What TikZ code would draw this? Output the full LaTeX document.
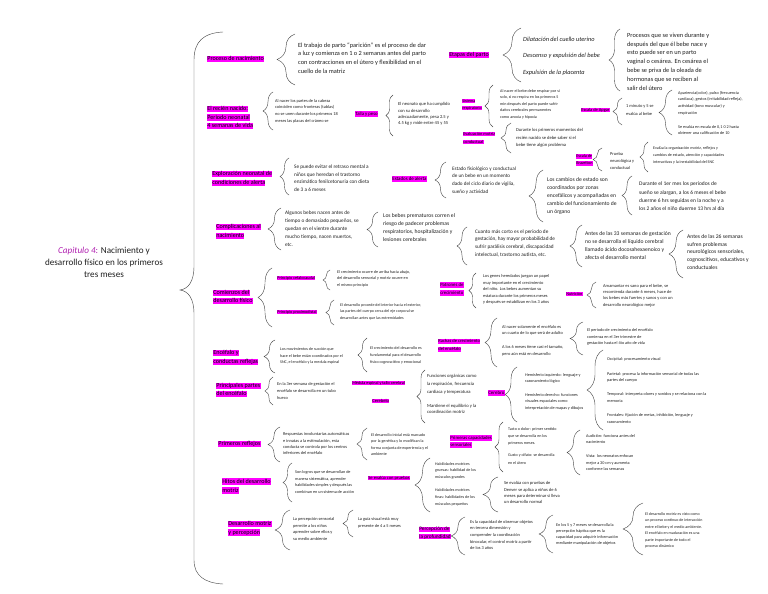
\documentclass[tikz,border=0pt]{standalone}
\usepackage{fontspec}
\setmainfont{Carlito}
\usetikzlibrary{decorations.pathreplacing}

\definecolor{pinkhl}{RGB}{255,0,255}
\definecolor{capcol}{RGB}{176,32,176}
\definecolor{brcol}{RGB}{70,70,70}
\definecolor{txtc}{RGB}{30,30,30}

% highlighted line of a label
\newcommand{\pkhl}[1]{{\fboxsep=0.3pt\colorbox{pinkhl}{\rule[-0.22em]{0pt}{0.98em}#1}}}
% brace: x of the ends, top, bottom, amplitude (px)
\newcommand{\brc}[4]{\draw[brc, decoration={brace, amplitude=#4*1.42pt}] (#1,#3) -- (#1,#2);}

\begin{document}
\begin{tikzpicture}[x=0.05cm, y=-0.05cm,
    tx/.style 2 args={anchor=west, align=left, inner sep=0pt, text=txtc, font=\fontsize{#1}{#2}\selectfont},
    pk/.style 2 args={anchor=west, align=left, inner sep=0pt, font=\fontsize{#1}{#2}\selectfont},
    brc/.style={decorate, draw=brcol, line width=0.6pt}]

    \useasboundingbox (0,0) rectangle (768,594);

    % Title and the big brace
    \node[align=center, text=txtc, font=\fontsize{13}{17}\selectfont] (title) at (104,262)
        {{\color{capcol}\itshape Capitulo 4}{\color{capcol}:} Nacimiento y\\desarrollo físico en los primeros\\tres meses};
    \draw[brcol, line width=0.6pt] (223,32) .. controls (203,33) and (194,42) .. (194,60) -- (194,266)
        .. controls (194,282) and (188,289) .. (180,290) .. controls (188,291) and (194,298) .. (194,314)
        -- (194,560) .. controls (194,576) and (205,583) .. (223,584);

    % Proceso de nacimiento
    \node[pk={8.7}{12.2}] (pn) at (207,59) {\pkhl{Proceso de nacimiento}};
    \brc{295}{34}{85}{18}
    \node[tx={9}{12.4}] (pnt) at (298,58) {El trabajo de parto “parición” es el proceso de dar\\a luz y comienza en 1 o 2 semanas antes del parto\\con contracciones en el útero y flexibilidad en el\\cuello de la matriz};
    \node[pk={8.5}{12}] (ep) at (449,55) {\pkhl{Etapas del parto}};
    \brc{521}{28}{82}{18}
    \node[tx={9}{12}] (ep1) at (523,39) {\itshape Dilatación del cuello uterino};
    \node[tx={9}{12}] (ep2) at (523,56) {\itshape Descenso y expulsión del bebe};
    \node[tx={9}{12}] (ep3) at (523,73) {\itshape Expulsión de la placenta};
    \brc{620}{29}{91}{11}
    \node[tx={9}{12.5}] (prt) at (627,61.5) {Procesos que se viven durante y\\después del que él bebe nace y\\esto puede ser en un parto\\vaginal o cesárea.  En cesárea el\\bebe se priva de la oleada de\\hormonas que se reciben al\\salir del útero};

    % El recién nacido
    \node[pk={8.7}{12}] (rn) at (207,117.5) {\pkhl{El recién nacido:}\\\pkhl{Periodo neonatal}\\\pkhl{4 semanas de vida}};
    \brc{273}{92}{130}{10}
    \node[tx={6.2}{9.6}] (rnt) at (275,111) {Al nacer los partes de la cabeza\\coinciden como fronteras (tablas)\\no se unen durante los primeros 18\\meses las placas del cráneo se};
    \node[pk={6.8}{9}] (tp) at (355,114) {\pkhl{Talla y peso}};
    \brc{393}{95}{136}{7}
    \node[tx={6.5}{9}] (tpt) at (398,114) {El neonato que ha cumplido\\con su desarrollo\\adecuadamente, pesa 2.5 y\\4.5 kg y mide entre 45 y 55};
    \node[pk={5.8}{10}] (sr) at (462,104.5) {\pkhl{Sistema}\\\pkhl{respiratorio}};
    \brc{493}{85}{127}{8}
    \node[tx={5.8}{9.3}] (srt) at (500,104) {Al nacer el bebe debe respirar por sí\\solo, si no respira en los primeros 5\\min después del parto puede sufrir\\daños cerebrales permanentes\\como anoxia y hipoxia};
    \node[pk={6.3}{11.4}] (em) at (463,138) {\pkhl{Evaluación motriz}\\\pkhl{conductual}};
    \brc{511}{123}{153}{10}
    \node[tx={6.5}{10.7}] (emt) at (516,138) {Durante los primeros momentos del\\recién nacido se debe saber si el\\bebe tiene algún problema};
    \node[pk={6.3}{9}] (ap) at (581,110) {\pkhl{Escala de Apgar}};
    \brc{622}{98}{125}{9}
    \node[tx={6.3}{11.4}] (apt) at (626,110) {1 minuto y 5 se\\evalúa al bebe};
    \brc{672}{90}{135}{13}
    \node[tx={6}{9.5}] (apt2) at (678,103) {Apariencia(color), pulso (frecuencia\\cardiaca), gestos (irritabilidad refleja),\\actividad (tono muscular) y\\respiración};
    \node[tx={6}{9.5}] (apt3) at (678,130) {Se evalúa en escala de 0,1 0 2 hasta\\obtener una calificación de 10};

    % Exploración neonatal
    \node[pk={8.7}{12.2}] (ex) at (212,178.5) {\pkhl{Exploración neonatal de}\\\pkhl{condiciones de alerta}};
    \brc{289}{158}{195}{9}
    \node[tx={7.5}{11}] (ext) at (294,178.3) {Se puede evitar el retraso mental a\\niños que heredan el trastorno\\enzimático fenilcetonuria con dieta\\de 3 a 6 meses};
    \node[pk={7}{10}] (ea) at (392,179) {\pkhl{Estados de alerta}};
    \brc{446}{162}{198}{11}
    \node[tx={7.3}{10.9}] (eat) at (452,180.3) {Estado fisiológico y conductual\\de un bebe en un momento\\dado del ciclo diario de vigilia,\\sueño y actividad};
    \brc{543}{170}{222}{14}
    \node[tx={8}{11.4}] (eat2) at (547,196) {Los cambios de estado son\\coordinados por zonas\\encefálicos y acompañadas en\\cambio del funcionamiento de\\un órgano};
    \brc{632}{176}{215}{10}
    \node[tx={7.8}{11.8}] (eat3) at (639,196.5) {Durante el 1er mes los periodos de\\sueño se alargan, a los 6 meses el bebe\\duerme 6 hrs seguidas en la noche y a\\los 2 años el niño duerme 13 hrs al día};
    \node[pk={6}{9.5}] (eb) at (576,160) {\pkhl{Escala de}\\\pkhl{Brazelton}};
    \brc{602}{148}{171}{9}
    \node[tx={6.3}{9.5}] (ebt) at (610,161) {Prueba\\neurológica y\\conductual};
    \brc{648}{142}{172}{8}
    \node[tx={5.8}{10}] (ebt2) at (653,155) {Evalúa la organización motriz, reflejos y\\cambios de estado, atención y capacidades\\interactivas y la inestabilidad del SNC};

    % Complicaciones al nacimiento
    \node[pk={8.7}{12.2}] (cn) at (216,231.5) {\pkhl{Complicaciones al}\\\pkhl{nacimiento}};
    \brc{281}{208}{250}{13}
    \node[tx={7.5}{11.4}] (cnt) at (285,228.3) {Algunos bebes nacen antes de\\tiempo o demasiado pequeños, se\\quedan en el vientre durante\\mucho tiempo, nacen muertos,\\etc.};
    \brc{378}{212}{247}{11}
    \node[tx={8}{11.2}] (cnt2) at (383,227.5) {Los bebes prematuros corren el\\riesgo de padecer problemas\\respiratorios, hospitalización y\\lesiones cerebrales};
    \brc{467}{227}{265}{10}
    \node[tx={7.5}{11.1}] (cnt3) at (475,243.3) {Cuanto más corto es el periodo de\\gestación, hay mayor probabilidad de\\sufrir parálisis cerebral, discapacidad\\intelectual, trastorno autista, etc.};
    \brc{582}{225}{267}{12}
    \node[tx={8}{11.1}] (cnt4) at (585,245.7) {Antes de las 33 semanas de gestación\\no se desarrolla el líquido cerebral\\llamado ácido docosahexaenoico y\\afecta el desarrollo mental};
    \brc{683}{230}{278}{14}
    \node[tx={8}{11}] (cnt5) at (687,252) {Antes de las 26 semanas\\sufren problemas\\neurológicos sensoriales,\\cognoscitivos, educativos y\\conductuales};

    % Comienzos del desarrollo físico
    \node[pk={8.7}{12}] (cd) at (213,297) {\pkhl{Comienzos del}\\\pkhl{desarrollo físico}};
    \brc{272}{268}{327}{14}
    \node[pk={6}{9}] (pc) at (277,278) {\pkhl{Principio cefalocaudal}};
    \brc{330}{270}{290}{7}
    \node[tx={5.9}{9.2}] (pct) at (337,278.5) {El crecimiento ocurre de arriba hacia abajo,\\del desarrollo sensorial y motriz ocurre en\\el mismo principio};
    \node[pk={6}{9}] (pp) at (277,312) {\pkhl{Principio proximodistal}};
    \brc{334}{300}{325}{8}
    \node[tx={5.7}{9}] (ppt) at (340,311.7) {El desarrollo procede del interior hacia el exterior,\\las partes del cuerpo cerca del eje corporal se\\desarrollan antes que las extremidades};
    \node[pk={6.8}{11.4}] (pa) at (440,289) {\pkhl{Patrones de}\\\pkhl{crecimiento}};
    \brc{476}{273}{308}{7}
    \node[tx={6.2}{9.1}] (pat) at (483,289.5) {Los genes heredados juegan un papel\\muy importante en el crecimiento\\del niño. Los bebes aumentan su\\estatura durante los primeros meses\\y después se estabilizan en los 3 años};
    \node[pk={6}{9}] (nu) at (566,294) {\pkhl{Nutrición}};
    \brc{596}{282}{308}{9}
    \node[tx={6.3}{9.1}] (nut) at (603,295.5) {Amamantar es sano para el bebe, se\\recomienda durante 6 meses, hace de\\los bebes más fuertes y sanos y con un\\desarrollo neurológico mejor};

    % Encéfalo y conductas reflejas
    \node[pk={8.7}{12.6}] (ec) at (213,357.5) {\pkhl{Encéfalo y}\\\pkhl{conductas reflejas}};
    \brc{275}{340}{373}{11}
    \node[tx={5.8}{9.7}] (ect) at (280,356) {Los movimientos de succión que\\hace el bebe están coordinados por el\\SNC, el encéfalo y la medula espinal};
    \brc{367}{338}{372}{9}
    \node[tx={5.8}{9.7}] (ect2) at (370,355.5) {El crecimiento del desarrollo es\\fundamental para el desarrollo\\físico cognoscitivo y emocional};
    \node[pk={6.5}{10.8}] (ra) at (438,345.5) {\pkhl{Rachas de crecimiento}\\\pkhl{del encéfalo}};
    \brc{497}{318}{367}{12}
    \node[tx={6.2}{8.6}] (rat) at (502,330.3) {Al nacer solamente el encéfalo es\\un cuarto de lo que será de adulto};
    \node[tx={6.2}{9.5}] (rat2) at (502,350.7) {A los 6 meses tiene casi el tamaño,\\pero aún está en desarrollo};
    \brc{583}{322}{355}{13}
    \node[tx={6}{8.8}] (rat3) at (587,337) {El periodo de crecimiento del encéfalo\\comienza en el 3er trimestre de\\gestación hasta el 4to año de vida};

    % Principales partes del encéfalo
    \node[pk={8.7}{11.4}] (pe) at (216,390) {\pkhl{Principales partes}\\\pkhl{del encéfalo}};
    \brc{273}{377}{405}{8}
    \node[tx={6.2}{10}] (pet) at (277,391.3) {En la 3er semana de gestación el\\encéfalo se desarrolla en un tubo\\hueco};
    \node[pk={6}{9}] (mt) at (352,383) {\pkhl{Médula espinal y tallo cerebral}};
    \node[pk={6.5}{9}] (cb) at (372,401) {\pkhl{Cerebelo}};
    \brc{425}{370}{423}{8}
    \node[tx={6.6}{11}] (mtt) at (427,384.4) {Funciones orgánicas como\\la respiración, frecuencia\\cardiaca y temperatura};
    \node[tx={6.6}{9}] (cbt) at (427,409) {Mantiene el equilibrio y la\\coordinación motriz};
    \node[pk={7}{9}] (ce) at (488,393) {\pkhl{Cerebro}};
    \brc{517}{367}{422}{12}
    \node[tx={6}{9.5}] (cet) at (525,378.3) {Hemisferio izquierdo: lenguaje y\\razonamiento lógico};
    \node[tx={6}{9.5}] (cet2) at (525,401.7) {Hemisferio derecho: funciones\\visuales espaciales como\\interpretación de mapas y dibujos};
    \brc{603}{350}{430}{16}
    \node[tx={6}{9.5}] (lo1) at (607,359) {Occipital: procesamiento visual};
    \node[tx={6}{9.5}] (lo2) at (607,377.5) {Parietal: procesa la información sensorial de todas las\\partes del cuerpo};
    \node[tx={6}{9.5}] (lo3) at (607,397.7) {Temporal: interpreta olores y sonidos y se relaciona con la\\memoria};
    \node[tx={6}{9.5}] (lo4) at (607,418.3) {Frontales: fijación de metas, inhibición, lenguaje y\\razonamiento};

    % Primeros reflejos
    \node[pk={8.7}{12}] (pr) at (218,444) {\pkhl{Primeros reflejos}};
    \brc{280}{427}{462}{12}
    \node[tx={6.2}{9}] (prt) at (283,443.8) {Respuestas involuntarias automáticas\\e innatas a la estimulación, esta\\conducta se controla por los centros\\inferiores del encéfalo};
    \brc{367}{428}{460}{10}
    \node[tx={5.8}{9.1}] (prt2) at (371,444.7) {El desarrollo inicial está marcado\\por la genética y lo modifican la\\forma conjunta de experiencia y el\\ambiente};
    \node[pk={6.7}{10}] (cs) at (450,441.5) {\pkhl{Primeras capacidades}\\\pkhl{sensoriales}};
    \brc{503}{422}{472}{8}
    \node[tx={5.8}{10}] (cst) at (508,436) {Tacto o dolor: primer sentido\\que se desarrolla en los\\primeros meses.};
    \node[tx={5.8}{11}] (cst2) at (508,459) {Gusto y olfato: se desarrolla\\en el útero};
    \brc{580}{430}{475}{13}
    \node[tx={6}{9}] (aut) at (586,439) {Audición: funciona antes del\\nacimiento};
    \node[tx={6}{8.9}] (vit) at (586,462.8) {Vista: los neonatos enfocan\\mejor a 30 cm y aumenta\\conforme las semanas};

    % Hitos del desarrollo motriz
    \node[pk={8.7}{12.8}] (hm) at (222,486.2) {\pkhl{Hitos del desarrollo}\\\pkhl{motriz}};
    \brc{292}{463}{502}{9}
    \node[tx={6}{9.2}] (hmt) at (295,482) {Son logros que se desarrollan de\\manera sistemática, aprender\\habilidades simples y después las\\combinan en un sistema de acción};
    \node[pk={6.5}{9}] (se) at (368,478) {\pkhl{Se evalúa con pruebas}};
    \brc{430}{458}{512}{15}
    \node[tx={5.8}{9.5}] (hgt) at (435,470.7) {Habilidades motrices\\gruesas: habilidad de los\\músculos grandes};
    \node[tx={5.8}{9.5}] (hft) at (435,497.4) {Habilidades motrices\\finas: habilidades de los\\músculos pequeños};
    \brc{498}{477}{512}{15}
    \node[tx={6.4}{9}] (dvt) at (504,492.8) {Se evalúa con pruebas de\\Denver se aplica a niños de 6\\meses para determinar si lleva\\un desarrollo normal};

    % Desarrollo motriz y percepción
    \node[pk={8.7}{11.8}] (dm) at (228,528.2) {\pkhl{Desarrollo motriz}\\\pkhl{y percepción}};
    \brc{290}{510}{550}{15}
    \node[tx={6.2}{9.5}] (dmt) at (293,529) {La percepción sensorial\\permite a los niños\\aprender sobre ellos y\\su medio ambiente};
    \brc{353}{510}{537}{10}
    \node[tx={6.2}{9.5}] (dmt2) at (358,522.6) {La guía visual está muy\\presente de 4 a 5 meses};
    \node[pk={7.5}{10.5}] (pf) at (419,533) {\pkhl{Percepción de}\\\pkhl{la profundidad}};
    \brc{465}{517}{555}{14}
    \node[tx={6.2}{9.5}] (pft) at (470,535) {Es la capacidad de observar objetos\\en tercera dimensión y\\comprender la coordinación\\binocular, el control motriz a partir\\de los 3 años};
    \brc{553}{515}{553}{14}
    \node[tx={6}{8.7}] (pft2) at (556,534.2) {En los 5 y 7 meses se desarrolla la\\percepción háptica que es la\\capacidad para adquirir información\\mediante manipulación de objetos};
    \brc{643}{503}{555}{20}
    \node[tx={5.7}{9.3}] (fft) at (645,530.3) {El desarrollo motriz es visto como\\un proceso continuo de interacción\\entre el bebe y el medio ambiente.\\El encéfalo en maduración es una\\parte importante de todo el\\proceso dinámico};
\end{tikzpicture}
\end{document}
